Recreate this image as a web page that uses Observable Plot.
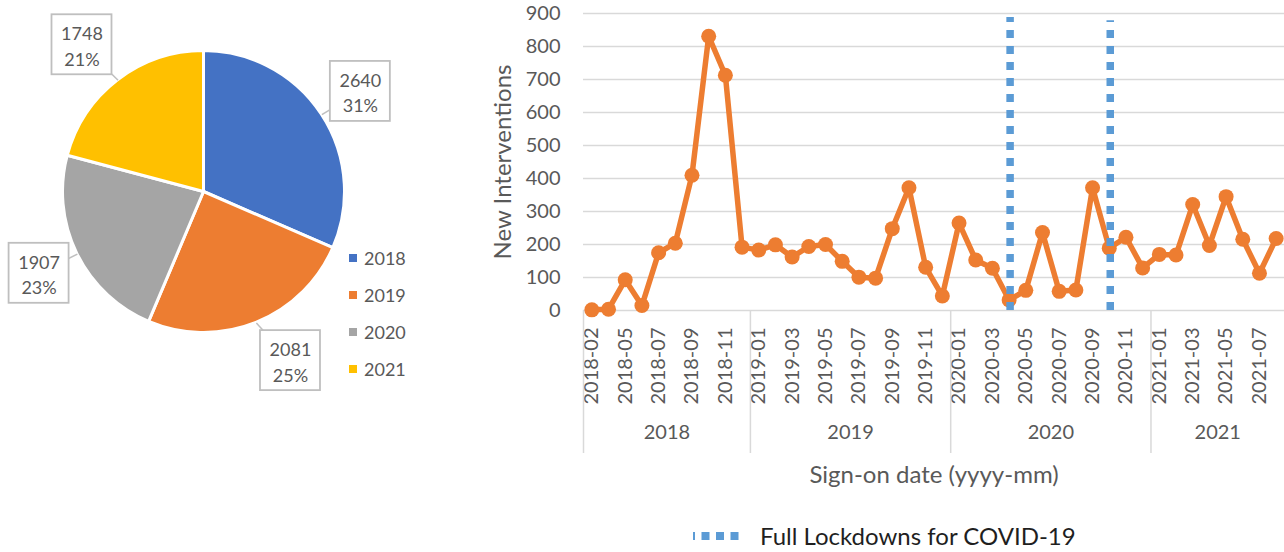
<!DOCTYPE html>
<html><head><meta charset="utf-8">
<script src="https://cdn.jsdelivr.net/npm/d3@7"></script>
<script src="https://cdn.jsdelivr.net/npm/@observablehq/plot@0.6"></script>
<style>
body{margin:0;background:#fff;font-family:Lato,"Open Sans",sans-serif;}
#wrap{position:relative;width:1284px;height:552px;overflow:hidden;background:#fff;}
#pie{position:absolute;left:0;top:0;}
#line{position:absolute;left:420px;top:0;}
#pieLegend{position:absolute;left:349px;top:239px;}
#pieLegend .pl-swatch{height:37px !important;margin:0 !important;padding:0 !important;display:flex;align-items:center;font-size:18px;color:#595959;font-family:Lato,sans-serif;}
#pieLegend .pl-swatch svg{margin-right:7px !important;}
#lockLegend{position:absolute;left:693px;top:521px;display:flex;align-items:center;font-family:Lato,sans-serif;font-size:24px;color:#1f1f1f;}
</style></head><body>
<div id="wrap"><div id="pie"></div><div id="pieLegend"></div><div id="line"></div><div id="lockLegend"></div></div>
<script>
// ---------- data ----------
const years = ["2018", "2019", "2020", "2021"];
const yearTotals = [2640, 2081, 1907, 1748];
const yearPercents = ["31%", "25%", "23%", "21%"];
const yearColors = ["#4472C4", "#ED7D31", "#A5A5A5", "#FFC000"];

const months = [
  "2018-02","2018-04","2018-05","2018-06","2018-07","2018-08","2018-09","2018-10","2018-11","2018-12",
  "2019-01","2019-02","2019-03","2019-04","2019-05","2019-06","2019-07","2019-08","2019-09","2019-10","2019-11","2019-12",
  "2020-01","2020-02","2020-03","2020-04","2020-05","2020-06","2020-07","2020-08","2020-09","2020-10","2020-11","2020-12",
  "2021-01","2021-02","2021-03","2021-04","2021-05","2021-06","2021-07","2021-08"
];
const interventions = [
  2, 4, 93, 15, 175, 204, 410, 831, 713, 192,
  183, 199, 162, 194, 200, 149, 101, 98, 248, 372, 131, 44,
  265, 153, 128, 32, 61, 236, 58, 62, 372, 189, 222, 129,
  170, 168, 321, 197, 345, 216, 113, 218
];
const yearStartMonths = ["2018-02", "2019-01", "2020-01", "2021-01"];
const yearCenterMonths = ["2018-07", "2019-06", "2020-06", "2021-04"];
const lockdownMonths = ["2020-04", "2020-10"];
const lockdownTops = [888, 878];
const yTicks = [0, 100, 200, 300, 400, 500, 600, 700, 800, 900];
const tickMonths = months.filter((d, i) => i % 2 === 0);
const yLabel = "New Interventions";
const xLabel = "Sign-on date (yyyy-mm)";
const lockLabel = "Full Lockdowns for COVID-19";

// ---------- layout ----------
const TEXT = "#595959", GRID = "#d9d9d9", ORANGE = "#ED7D31", BLUE = "#5B9BD5";
const FONT = "Lato, 'Open Sans', sans-serif";

// ---------- pie ----------
const PW = 420, PH = 440, cx = 203.5, cy = 191.5, R = 141, RL = 187;
const calloutShift = [[0, 2], [17, -5], [3, -1], [-8, 1]];
const arcs = d3.pie().sort(null).value(d => d)(yearTotals);
const arcGen = d3.arc().innerRadius(0).outerRadius(R);
const labelArc = d3.arc().innerRadius(RL).outerRadius(RL);
const edgeArc = d3.arc().innerRadius(R).outerRadius(R);
const slices = arcs.map((a, i) => {
  const [lx, ly] = labelArc.centroid(a);
  const [ex, ey] = edgeArc.centroid(a);
  return {
    year: years[i], value: yearTotals[i], pct: yearPercents[i], color: yearColors[i],
    path: arcGen(a),
    lx: cx + lx + calloutShift[i][0], ly: cy + ly + calloutShift[i][1],
    ex: cx + ex, ey: cy + ey
  };
});

const piePlot = Plot.plot({
  width: PW, height: PH, margin: 0,
  x: {type: "identity", axis: null}, y: {type: "identity", axis: null},
  style: {fontFamily: FONT, background: "transparent", overflow: "visible"},
  marks: [
    () => {
      const g = d3.create("svg:g").attr("transform", `translate(${cx},${cy})`);
      g.selectAll("path").data(slices).join("path")
        .attr("d", d => d.path).attr("fill", d => d.color)
        .attr("stroke", "#fff").attr("stroke-width", 3).attr("stroke-linejoin", "round");
      return g.node();
    },
    Plot.link(slices, {x1: "lx", y1: "ly", x2: "ex", y2: "ey", stroke: "#bfbfbf", strokeWidth: 1.5}),
    Plot.rect(slices, {x1: d => d.lx - 30, x2: d => d.lx + 30, y1: d => d.ly - 30, y2: d => d.ly + 30,
      fill: "#fff", stroke: "#bfbfbf", strokeWidth: 1.8}),
    Plot.text(slices, {x: "lx", y: "ly", text: d => `${d.value}\n${d.pct}`, lineHeight: 1.42,
      fontSize: 18, fill: TEXT})
  ]
});
document.getElementById("pie").appendChild(piePlot);

const pieLegend = Plot.legend({
  color: {type: "ordinal", domain: years, range: yearColors},
  legend: "swatches", columns: 1, swatchSize: 8, className: "pl",
  style: {fontSize: "18px", fontFamily: FONT, color: TEXT}
});
document.getElementById("pieLegend").appendChild(pieLegend);

// ---------- line chart ----------
const W = 864, H = 500, mL = 163, mR = 0, mT = 13, mB = 190;
const step = (W - mL - mR) / months.length;
const series = months.map((m, i) => ({month: m, value: interventions[i]}));
const lockdowns = lockdownMonths.map((m, i) => ({month: m, top: lockdownTops[i]}));

const linePlot = Plot.plot({
  width: W, height: H, marginLeft: mL, marginRight: mR, marginTop: mT, marginBottom: mB,
  style: {fontFamily: FONT, color: TEXT, background: "transparent", overflow: "visible"},
  x: {type: "point", domain: months, padding: 0.5, round: false, label: null},
  y: {domain: [0, 900], label: null},
  marks: [
    Plot.ruleY(yTicks, {stroke: GRID, strokeWidth: 1.5}),
    Plot.axisY({ticks: yTicks, tickSize: 0, tickPadding: 23, fontSize: 20, label: null, fill: TEXT}),
    Plot.axisX({ticks: tickMonths, tickSize: 0, tickPadding: 17, tickRotate: -90, fontSize: 20, label: null, fill: TEXT}),
    Plot.ruleX(yearStartMonths, {dx: -step / 2, insetTop: H - mT - mB, insetBottom: -143, stroke: GRID, strokeWidth: 1.5}),
    Plot.text(years, {x: yearCenterMonths, dx: step / 2, frameAnchor: "bottom", dy: 128, fontSize: 20, fill: TEXT}),
    Plot.text([xLabel], {frameAnchor: "bottom", dy: 172, fontSize: 24, fill: TEXT}),
    Plot.text([yLabel], {frameAnchor: "left", textAnchor: "middle", dx: -80, rotate: -90, fontSize: 24, fill: TEXT}),
    Plot.line(series, {x: "month", y: "value", stroke: ORANGE, strokeWidth: 5.5, strokeLinejoin: "round"}),
    Plot.dot(series, {x: "month", y: "value", r: 7.5, fill: ORANGE, stroke: null}),
    Plot.ruleX(lockdowns, {x: "month", y1: 0, y2: "top", dx: 1, stroke: BLUE, strokeWidth: 7.5, strokeDasharray: "8,8"})
  ]
});
document.getElementById("line").appendChild(linePlot);

// ---------- lockdown legend ----------
const ll = document.getElementById("lockLegend");
ll.innerHTML = `<svg width="49" height="10" style="margin-right:18px"><line x1="0" x2="49" y1="5" y2="5" stroke="${BLUE}" stroke-width="8" stroke-dasharray="8 6.5" stroke-dashoffset="6"/></svg><span>${lockLabel}</span>`;
</script>
</body></html>
